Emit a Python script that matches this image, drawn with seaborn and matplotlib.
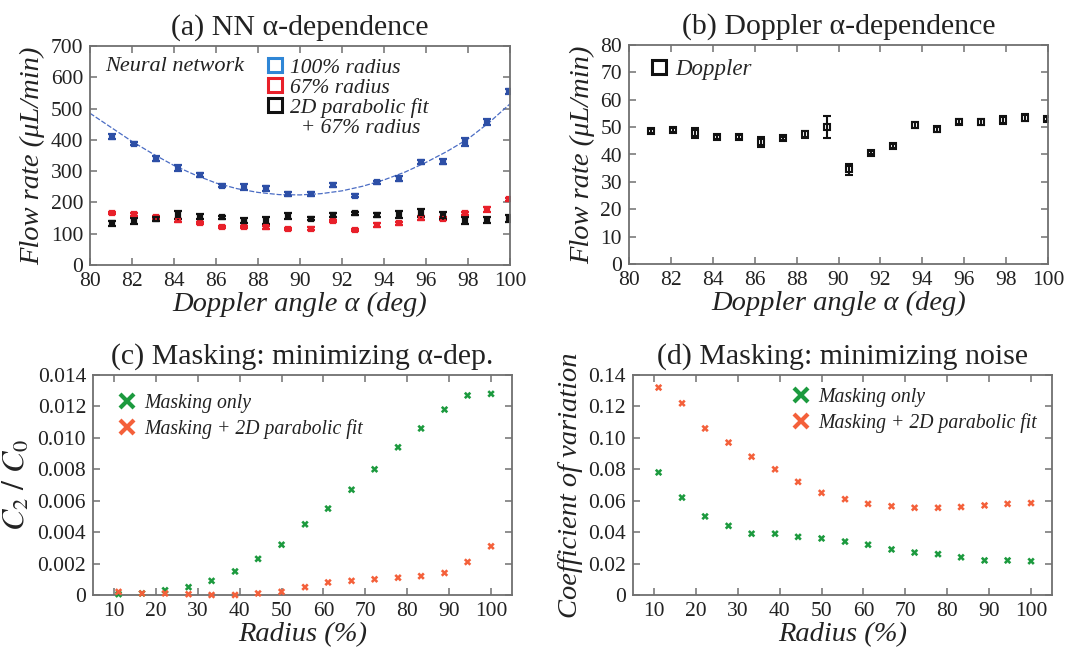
import numpy as np
import pandas as pd
import matplotlib
matplotlib.use("Agg")
import matplotlib.pyplot as plt
import seaborn as sns
from matplotlib.lines import Line2D
from matplotlib.ticker import FuncFormatter

# ---- data ----
angles = [81.05, 82.1, 83.15, 84.2, 85.25, 86.3, 87.35, 88.4, 89.45, 90.5,
          91.55, 92.6, 93.65, 94.7, 95.75, 96.8, 97.85, 98.9, 99.95]

nn_100 = [410, 388, 340, 311, 288, 254, 250, 245, 226, 227,
          255, 222, 265, 276, 330, 330, 393, 458, 555]
nn_100_err = [8, 5, 9, 9, 6, 6, 9, 7, 7, 5, 6, 5, 5, 8, 7, 8, 12, 10, 9]
nn_67 = [165, 162, 152, 143, 135, 122, 122, 120, 115, 116,
         140, 113, 128, 133, 150, 148, 165, 178, 210]
nn_67_err = [3, 5, 4, 4, 4, 3, 4, 4, 3, 4, 4, 3, 5, 6, 6, 5, 5, 7, 4]
nn_fit = [133, 140, 147, 160, 155, 152, 142, 143, 157, 148,
          161, 165, 160, 162, 165, 157, 143, 144, 150]
nn_fit_err = [7, 9, 7, 12, 7, 6, 9, 11, 10, 5, 6, 4, 7, 12, 13, 11, 11, 11, 11]

# dotted parabolic fit curve through the 100% radius points
curve_angles = list(range(80, 101))
curve_vals = [485, 440, 395, 355, 318, 288, 262, 244, 232, 225, 224,
              228, 237, 252, 272, 297, 328, 363, 403, 455, 515]

doppler = [48.5, 49.0, 48.0, 46.3, 46.5, 44.7, 45.9, 47.4, 50.0, 34.6,
           40.6, 43.0, 50.8, 49.2, 52.0, 51.9, 52.7, 53.4, 53.0]
doppler_err = [0.8, 0.8, 1.8, 0.8, 0.8, 1.8, 0.6, 1.2, 4.0, 2.0,
               0.6, 0.8, 1.2, 0.8, 0.8, 1.2, 1.4, 1.3, 0.8]

radius = [11.1, 16.7, 22.2, 27.8, 33.3, 38.9, 44.4, 50.0, 55.6, 61.1,
          66.7, 72.2, 77.8, 83.3, 88.9, 94.4, 100.0]
c2c0_mask = [0.00005, 0.0001, 0.0003, 0.0005, 0.0009, 0.0015, 0.0023, 0.0032,
             0.0045, 0.0055, 0.0067, 0.0080, 0.0094, 0.0106, 0.0118, 0.0127, 0.0128]
c2c0_fit = [0.0002, 0.0001, 0.0001, 0.00005, 0.0, 0.0, 0.0001, 0.0002,
            0.0005, 0.0008, 0.0009, 0.0010, 0.0011, 0.0012, 0.0014, 0.0021, 0.0031]
cv_mask = [0.078, 0.062, 0.050, 0.044, 0.039, 0.039, 0.037, 0.036, 0.034,
           0.032, 0.029, 0.027, 0.026, 0.024, 0.022, 0.022, 0.0215]
cv_fit = [0.132, 0.122, 0.106, 0.097, 0.088, 0.080, 0.072, 0.065, 0.061,
          0.058, 0.0565, 0.0555, 0.0555, 0.056, 0.057, 0.058, 0.0585]

GREEN = "#1c9a3e"
ORANGE = "#f4603a"
BLUE_PT = "#2d4fa6"
BLUE_LEG = "#2f86d6"
RED = "#e8202a"
FRAME = "#707070"

sns.set_theme(style="ticks")
plt.rcParams["font.family"] = ["Liberation Serif", "DejaVu Serif"]
plt.rcParams["mathtext.fontset"] = "stix"


def style_axes(ax):
    for s in ax.spines.values():
        s.set_color(FRAME)
        s.set_linewidth(1.3)
    ax.tick_params(direction="in", length=5, width=1.1, color=FRAME,
                   top=True, right=True, labelsize=15.5, pad=5, labelcolor="#222")


W, H = 1073, 650
fig = plt.figure(figsize=(W / 100, H / 100), dpi=100)


def axes_px(left, right, top, bottom):
    return fig.add_axes([left / W, 1 - bottom / H, (right - left) / W, (bottom - top) / H])


lab_kw = dict(fontsize=20.5, style="italic", color="#222")
title_kw = dict(fontsize=21.5, color="#222", pad=8)
leg_prop = dict(size=16.5, style="italic")

# ---- (a) ----
ax = axes_px(90, 510, 46, 265)
sns.lineplot(x=curve_angles, y=curve_vals, ax=ax, color="#4a6cc4", lw=0.9,
             linestyle=(0, (4, 1.5)))
err_kw = dict(fmt="s", ms=3.5, mfc="none", mew=1.6, capsize=2.6, elinewidth=1.6, capthick=1.6)
ax.errorbar(angles, nn_100, yerr=nn_100_err, color=BLUE_PT, **err_kw)
ax.errorbar(angles, nn_67, yerr=nn_67_err, color=RED, **err_kw)
ax.errorbar(angles, nn_fit, yerr=nn_fit_err, color="#111", **err_kw)
ax.set_xlim(80, 100)
ax.set_ylim(0, 700)
ax.set_xticks(range(80, 101, 2))
ax.set_yticks(range(0, 701, 100))
ax.set_xlabel("Doppler angle α (deg)", labelpad=1, **lab_kw)
ax.set_ylabel("Flow rate (μL/min)", labelpad=4, **lab_kw)
ax.set_title("(a) NN α-dependence", **title_kw)
style_axes(ax)
ax.text(0.035, 0.905, "Neural network", transform=ax.transAxes, fontsize=16,
        style="italic", va="center", color="#222")
handles = [Line2D([], [], ls="none", marker="s", ms=9.5, mfc="none", mew=2.2, color=c)
           for c in (BLUE_LEG, RED, "#111")]
handles.append(Line2D([], [], ls="none", marker=None))
leg = ax.legend(handles, ["100% radius", "67% radius", "2D parabolic fit", "  + 67% radius"],
                loc="upper left", bbox_to_anchor=(0.385, 1.015), frameon=False,
                prop=dict(size=15.5, style="italic"), handlelength=0.8,
                handletextpad=0.3, labelspacing=0.0, borderaxespad=0.3)
for t in leg.get_texts():
    t.set_color("#222")

# ---- (b) ----
ax = axes_px(629, 1048, 45, 264)
ax.errorbar(angles, doppler, yerr=doppler_err, color="#111", fmt="s", ms=5,
            mfc="none", mew=1.5, capsize=2.6, elinewidth=1.5, capthick=1.5)
ax.set_xlim(80, 100)
ax.set_ylim(0, 80)
ax.set_xticks(range(80, 101, 2))
ax.set_yticks(range(0, 81, 10))
ax.set_xlabel("Doppler angle α (deg)", labelpad=1, **lab_kw)
ax.set_ylabel("Flow rate (μL/min)", labelpad=4, **lab_kw)
ax.set_title("(b) Doppler α-dependence", **title_kw)
style_axes(ax)
h = [Line2D([], [], ls="none", marker="s", ms=10, mfc="none", mew=2.2, color="#111")]
leg = ax.legend(h, ["Doppler"], loc="upper left", bbox_to_anchor=(0.0, 1.03),
                frameon=False, prop=leg_prop,
                handlelength=0.8, handletextpad=0.3)

# ---- (c) and (d) ----
def radius_panel(ax, mask_vals, fit_vals, ymax, step, fmt, title, ylabel, anchor, ylab_size):
    df = pd.DataFrame({
        "radius": radius * 2,
        "value": mask_vals + fit_vals,
        "method": ["Masking only"] * len(radius) + ["Masking + 2D parabolic fit"] * len(radius),
    })
    sns.scatterplot(data=df, x="radius", y="value", hue="method",
                    palette=[GREEN, ORANGE], marker="X", s=28, linewidth=0,
                    ax=ax, legend=False, zorder=3, clip_on=False)
    ax.set_xlim(5, 105)
    ax.set_ylim(0, ymax)
    ax.set_xticks(range(10, 101, 10))
    ax.set_yticks(np.arange(0, ymax + step / 2, step))
    ax.yaxis.set_major_formatter(FuncFormatter(lambda v, p: "0" if abs(v) < 1e-12 else fmt.format(v)))
    ax.set_xlabel("Radius (%)", labelpad=1, **lab_kw)
    ax.set_ylabel(ylabel, labelpad=4, fontsize=ylab_size, style="italic", color="#222")
    ax.set_title(title, **title_kw)
    style_axes(ax)
    hs = [Line2D([], [], ls="none", marker="x", ms=10, mew=3, color=c) for c in (GREEN, ORANGE)]
    lg = ax.legend(hs, ["Masking only", "Masking + 2D parabolic fit"], loc="upper left",
                   bbox_to_anchor=anchor, frameon=False,
                   prop=dict(size=14.2, style="italic"), handlelength=0.8,
                   handletextpad=0.45, labelspacing=0.3)
    for t in lg.get_texts():
        t.set_color("#222")


ax = axes_px(93, 512, 375, 595)
radius_panel(ax, c2c0_mask, c2c0_fit, 0.014, 0.002, "{:.3f}",
             "(c) Masking: minimizing α-dep.", r"$C_2\ /\ C_0$", (0.02, 0.995), 23)
ax = axes_px(633, 1052, 375, 595)
radius_panel(ax, cv_mask, cv_fit, 0.14, 0.02, "{:.2f}",
             "(d) Masking: minimizing noise", "Coefficient of variation", (0.34, 1.02), 20.5)

fig.savefig("out.png", dpi=100)
